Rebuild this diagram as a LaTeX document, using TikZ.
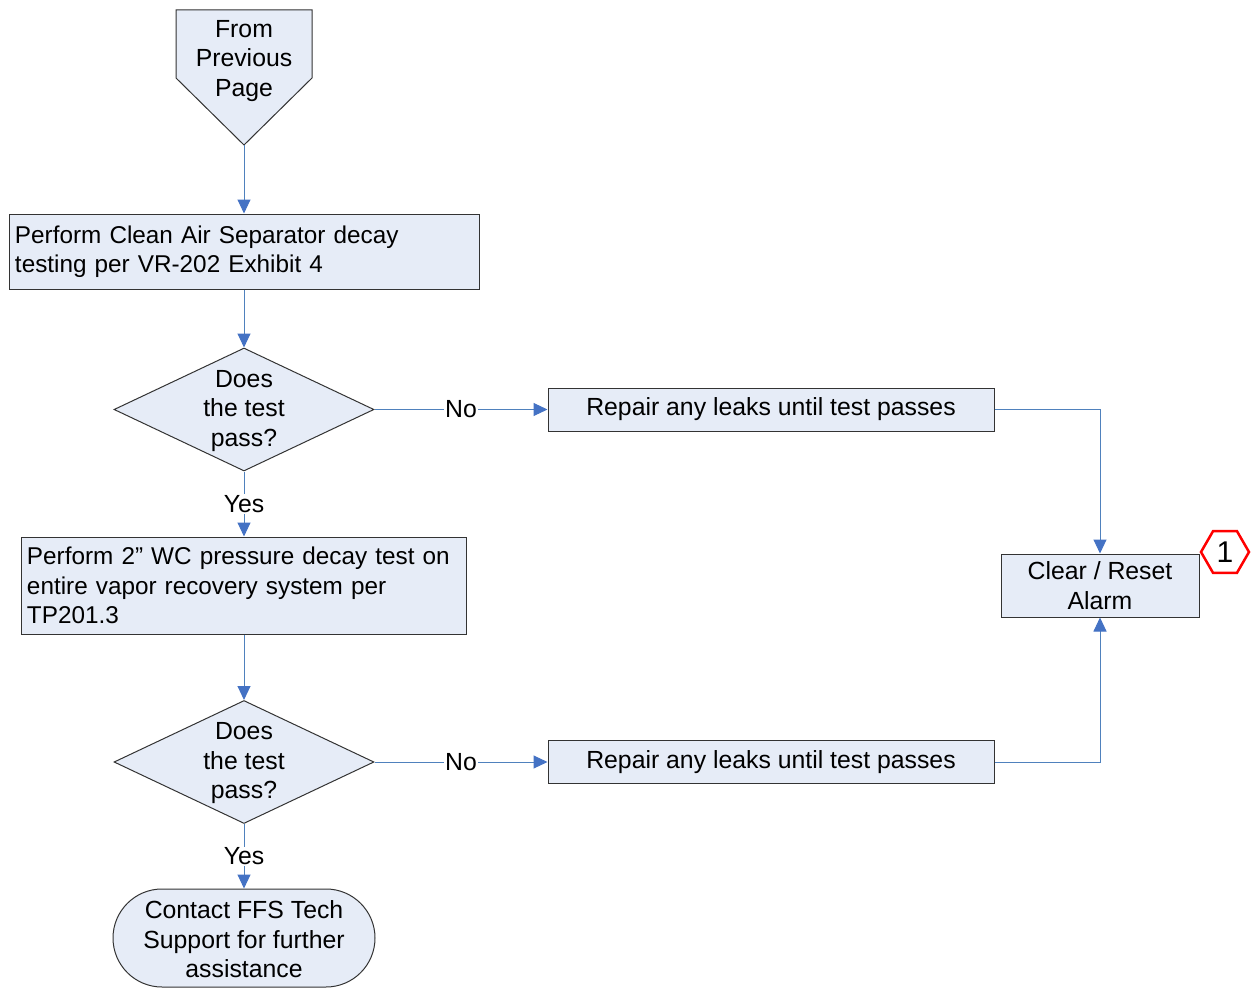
\documentclass[tikz,border=0pt]{standalone}
\usepackage{fontspec}
\setmainfont{Liberation Sans}
\usetikzlibrary{shapes.geometric,arrows.meta}
\definecolor{boxfill}{HTML}{E6ECF7}
\definecolor{conn}{HTML}{4F81BD}
\definecolor{tipc}{HTML}{4472C4}
\definecolor{hexred}{HTML}{FF0000}
\definecolor{edge}{HTML}{333333}
\begin{document}
\begin{tikzpicture}[x=1pt,y=-1pt,
  every node/.style={font=\fontsize{24.8}{29.5}\selectfont},
  proc/.style={draw=edge, fill=boxfill, line width=1pt, rectangle, inner xsep=6pt, inner ysep=0pt},
  leftproc/.style={proc, align=left, font=\fontsize{24.3}{29.3}\selectfont},
  dec/.style={draw=edge, fill=boxfill, line width=1pt, diamond, minimum width=260pt, minimum height=123pt, inner sep=0pt},
  arr/.style={draw=conn, line width=1pt, -{Triangle[length=14pt,width=13pt,fill=tipc,color=tipc]}},
  lbl/.style={fill=white, inner sep=1pt},
  txt/.style={align=center, inner sep=0pt}
]
\useasboundingbox (0,0) rectangle (1254,990);

% off-page connector
\draw[draw=edge, fill=boxfill, line width=1pt] (176,10) -- (312,10) -- (312,78) -- (244,145) -- (176,78) -- cycle;
\node[txt] (fpp) at (244,61) {From\\Previous\\Page};
\coordinate (fpptip) at (244,145);

% process boxes
\node[leftproc, text width=458pt, minimum height=75pt] (b1) at (244,251.5)
  {Perform Clean Air Separator decay\\testing per VR-202 Exhibit 4};
\node[dec] (d1) at (244,409.5) {};
\node[txt] (d1t) at (244,411) {Does\\the test\\pass?};
\node[proc, minimum width=446pt, minimum height=43pt, align=center] (r1) at (771,409.5)
  {Repair any leaks until test passes};

\node[leftproc, text width=433pt, minimum height=97pt] (b2) at (243.5,585.5)
  {Perform 2\textquotedblright\ WC pressure decay test on\\entire vapor recovery system per\\TP201.3};
\node[dec] (d2) at (244,762) {};
\node[txt] (d2t) at (244,763.5) {Does\\the test\\pass?};
\node[proc, minimum width=446pt, minimum height=43pt, align=center] (r2) at (771,762)
  {Repair any leaks until test passes};

\node[proc, minimum width=198pt, minimum height=63pt, align=center] (clr) at (1100,585.5)
  {Clear / Reset\\Alarm};
\node[regular polygon, regular polygon sides=6, draw=hexred, line width=2.5pt,
  minimum size=48pt, inner sep=0pt, font=\fontsize{30}{30}\selectfont] (hex) at (1225,552) {1};

\node[draw=edge, fill=boxfill, line width=1pt, rectangle, rounded corners=49pt,
  minimum width=262pt, minimum height=98pt, inner sep=0pt] (term) at (244,938) {};
\node[txt] (termt) at (244,939.5) {Contact FFS Tech\\Support for further\\assistance};

% connectors
\draw[arr] (fpptip) -- (b1.north);
\draw[arr] (b1.south) -- (d1.north);
\draw[arr] (d1.east) -- node[lbl] (no1) {No} (r1.west);
\draw[arr] (r1.east) -| (clr.north);
\draw[arr] (d1.south) -- node[lbl] (yes1) {Yes} (d1.south |- b2.north);
\draw[arr] (d1.south |- b2.south) -- (d2.north);
\draw[arr] (d2.east) -- node[lbl] (no2) {No} (r2.west);
\draw[arr] (r2.east) -| (clr.south);
\draw[arr] (d2.south) -- node[lbl] (yes2) {Yes} (term.north);
\end{tikzpicture}
\end{document}
